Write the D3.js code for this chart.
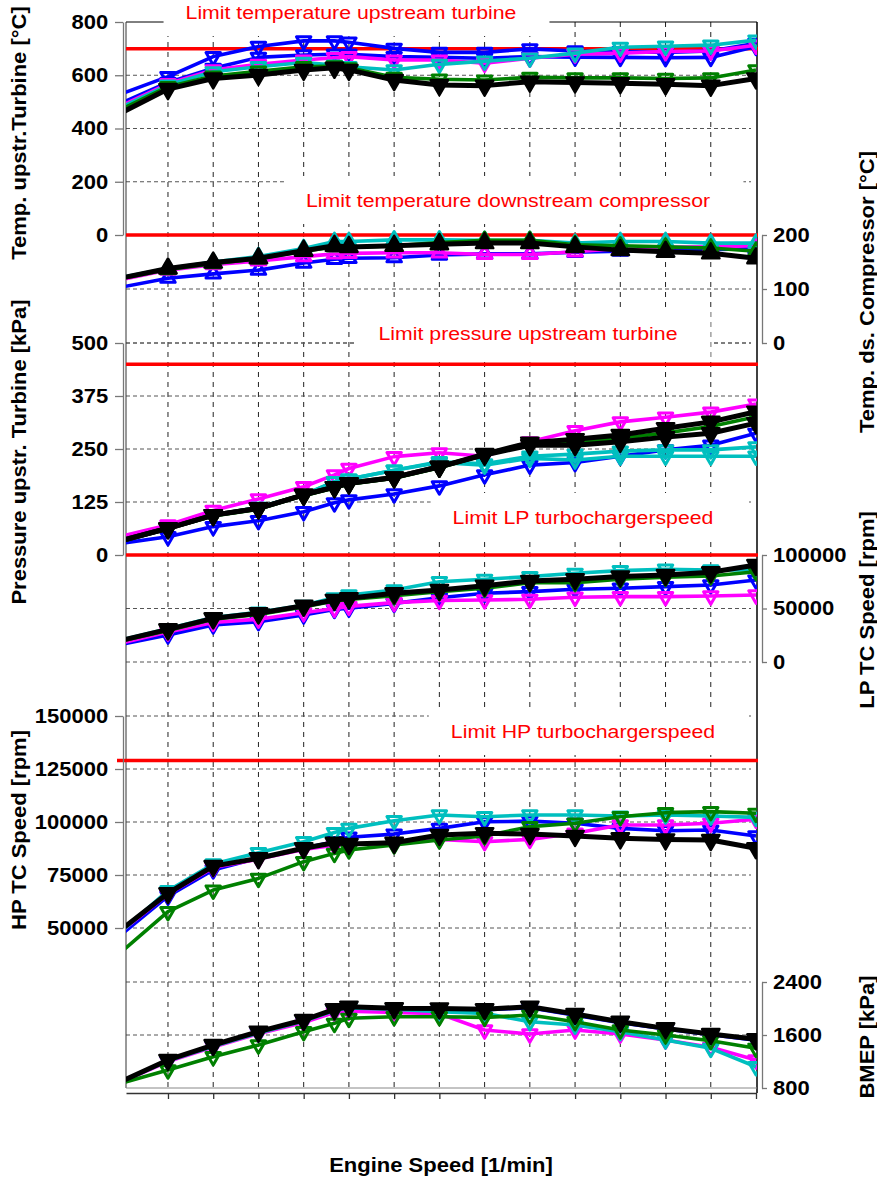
<!DOCTYPE html>
<meta charset="utf-8">
<style>
body { margin: 0; background: #fff; font-family: "Liberation Sans", Arial, Helvetica, sans-serif; }
.tick text { font-weight: bold; font-size: 20px; fill: #000; }
.ytitle { font-weight: bold; font-size: 20px; }
.limit-label { fill: #ff0000; font-size: 18.5px; }
.hgrid { stroke: #555; stroke-dasharray: 4,3; }
.vgrid { stroke: #222; stroke-dasharray: 5,5; }
</style>
<svg id="chart" width="877" height="1179"></svg>
<script src="https://cdn.jsdelivr.net/npm/d3@7"></script>
<script>

// engine speed of every operating point [1/min]
var speed = [1000, 1250, 1500, 1750, 2000, 2170, 2250, 2500, 2750, 3000, 3250, 3500, 3750, 4000, 4250, 4500];
var gridSpeeds = [1250, 1500, 1750, 2000, 2250, 2500, 2750, 3000, 3250, 3500, 3750, 4000, 4250];

// Temp. upstr. Turbine [°C]
var tTurbBlueA   = [532, 595, 670, 708, 729, 729, 724, 701, 686, 686, 699, 691, 689, 686, 691, 720];
var tTurbBlueB   = [498, 573, 626, 667, 676, 679, 679, 670, 667, 664, 670, 668, 667, 666, 667, 708];
var tTurbMagenta = [488, 568, 620, 641, 657, 666, 670, 657, 657, 645, 664, 679, 683, 689, 691, 713];
var tTurbCyan    = [482, 563, 613, 632, 648, 638, 632, 620, 641, 653, 664, 683, 705, 709, 713, 732];
var tTurbGreen   = [475, 557, 597, 615, 632, 635, 628, 592, 585, 582, 592, 590, 590, 588, 590, 620];
var tTurbBlack   = [462, 548, 588, 601, 620, 628, 620, 582, 563, 561, 576, 573, 570, 566, 561, 588];

// Temp. ds. Compressor [°C]
var tCompBlue    = [104, 120, 128, 135, 148, 155, 157, 158, 163, 165, 165, 168, 170, 172, 173, 175];
var tCompMagenta = [118, 135, 145, 152, 160, 165, 166, 167, 167, 164, 164, 169, 175, 177, 178, 180];
var tCompCyan    = [122, 138, 150, 160, 175, 188, 188, 191, 191, 190, 190, 185, 188, 188, 185, 185];
var tCompGreen   = [120, 136, 147, 156, 170, 178, 177, 180, 186, 190, 190, 182, 180, 178, 176, 170];
var tCompBlack   = [121, 138, 149, 157, 171, 180, 178, 180, 183, 185, 185, 178, 172, 169, 166, 157];

// Pressure upstr. Turbine [kPa]
var pTurbBlue    = [28, 43, 67, 81, 102, 123, 130, 144, 163, 189, 212, 218, 233, 248, 259, 287];
var pTurbMagenta = [45, 71, 105, 132, 161, 189, 204, 232, 241, 233, 267, 293, 314, 325, 337, 356];
var pTurbCyan    = [35, 63, 94, 112, 142, 173, 179, 200, 220, 215, 233, 238, 245, 248, 248, 255];
var pTurbCyanB   = [35, 63, 94, 112, 142, 173, 179, 200, 218, 212, 228, 224, 233, 233, 233, 233];
var pTurbGreen   = [33, 62, 92, 108, 140, 158, 167, 181, 206, 236, 262, 267, 275, 288, 303, 326];
var pTurbBlackB  = [35, 63, 94, 110, 142, 160, 169, 183, 208, 236, 259, 259, 267, 278, 287, 311];
var pTurbBlack   = [35, 63, 94, 110, 142, 160, 169, 183, 208, 238, 265, 273, 283, 299, 314, 338];

// LP TC Speed [rpm]
var nLpBlue    = [16800, 25200, 34600, 37700, 43900, 49200, 50200, 54800, 60000, 64200, 65800, 68000, 68900, 70400, 72000, 76600];
var nLpMagenta = [18000, 28000, 37000, 40000, 46000, 50000, 52000, 55500, 57500, 58000, 58600, 60500, 61100, 61100, 61700, 62600];
var nLpCyan    = [21000, 31000, 41500, 46500, 53000, 60000, 62600, 67300, 75000, 77300, 79800, 82900, 85400, 86700, 86000, 86000];
var nLpGreen   = [20000, 29500, 40000, 44500, 51500, 57000, 58500, 62000, 65800, 68900, 74200, 74200, 77300, 79200, 80400, 84400];
var nLpBlack   = [20600, 30500, 40800, 45500, 52600, 58000, 59500, 64200, 67300, 71300, 75700, 77300, 79800, 81300, 83800, 90600];

// HP TC Speed [rpm]
var nHpBlue    = [47500, 65000, 77400, 83000, 87600, 90700, 92800, 94300, 97000, 100100, 100400, 99400, 97000, 95900, 96200, 93400];
var nHpMagenta = [49000, 66000, 78500, 82500, 87000, 89000, 89500, 90000, 91800, 90700, 91800, 94700, 98600, 98600, 99400, 101300];
var nHpCyan    = [49000, 67600, 80200, 85500, 90700, 95000, 97000, 100600, 103300, 102500, 103300, 103300, 102800, 103300, 102800, 102200];
var nHpGreen   = [39300, 57700, 67900, 73400, 81300, 85200, 86800, 89200, 91500, 93400, 97800, 99400, 102500, 104400, 104900, 104100];
var nHpBlack   = [49800, 66400, 79200, 82900, 87600, 90200, 89600, 90200, 93900, 94700, 94300, 93400, 92300, 91800, 91500, 87600];

// BMEP [kPa]
var bmepBlue    = [905, 1215, 1440, 1640, 1815, 1975, 2015, 1995, 1990, 1980, 2010, 1900, 1785, 1690, 1605, 1520];
var bmepMagenta = [900, 1200, 1420, 1620, 1790, 1940, 1960, 1940, 1920, 1675, 1615, 1675, 1615, 1524, 1414, 1223];
var bmepCyan    = [905, 1210, 1430, 1630, 1810, 1970, 2010, 1990, 1950, 1927, 1800, 1750, 1650, 1524, 1399, 1121];
var bmepGreen   = [880, 1072, 1273, 1449, 1650, 1776, 1852, 1876, 1876, 1866, 1901, 1800, 1675, 1600, 1514, 1399];
var bmepBlack   = [910, 1223, 1449, 1650, 1826, 1988, 2027, 2003, 2000, 1988, 2027, 1917, 1800, 1700, 1615, 1535];

// tick labels of the stacked axes
var ticksTempTurb = [0, 200, 400, 600, 800];
var ticksTempComp = [0, 100, 200];
var ticksPressure = [0, 125, 250, 375, 500];
var ticksLp       = [0, 50000, 100000];
var ticksHp       = [50000, 75000, 100000, 125000, 150000];
var ticksBmep     = [800, 1600, 2400];

var BLUE = "#0000ff", MAGENTA = "#ff00ff", CYAN = "#00bfbf", GREEN = "#008000", BLACK = "#000000";

var plotLeft = 126, plotRight = 757, plotTop = 22, plotBottom = 1088, xAxisY = 1093;
var sx = 1.1;   // glyphs are a bit wider in the original

var panels = [
  { title: "Temp. upstr.Turbine [°C]", side: "left", domain: [0, 800], range: [235, 22], ticks: ticksTempTurb,
    limit: 700, label: "Limit temperature upstream turbine", labelX: 351, labelY: 12, titleY: 133, up: false,
    series: [[tTurbBlueA, BLUE], [tTurbBlueB, BLUE], [tTurbMagenta, MAGENTA], [tTurbCyan, CYAN], [tTurbGreen, GREEN], [tTurbBlack, BLACK]] },
  { title: "Temp. ds. Compressor [°C]", side: "right", domain: [0, 200], range: [343, 235], ticks: ticksTempComp,
    limit: 200, label: "Limit temperature downstream compressor", labelX: 508, labelY: 200, titleY: 292, up: true,
    series: [[tCompBlue, BLUE], [tCompMagenta, MAGENTA], [tCompCyan, CYAN], [tCompGreen, GREEN], [tCompBlack, BLACK]] },
  { title: "Pressure upstr. Turbine [kPa]", side: "left", domain: [0, 500], range: [555, 343], ticks: ticksPressure,
    limit: 450, label: "Limit pressure upstream turbine", labelX: 528, labelY: 333, titleY: 452, up: false,
    series: [[pTurbBlue, BLUE], [pTurbMagenta, MAGENTA], [pTurbCyanB, CYAN], [pTurbCyan, CYAN], [pTurbGreen, GREEN], [pTurbBlackB, BLACK], [pTurbBlack, BLACK]] },
  { title: "LP TC Speed [rpm]", side: "right", domain: [0, 100000], range: [662, 555], ticks: ticksLp,
    limit: 100000, label: "Limit LP turbochargerspeed", labelX: 583, labelY: 517, titleY: 610, up: false,
    series: [[nLpBlue, BLUE], [nLpMagenta, MAGENTA], [nLpCyan, CYAN], [nLpGreen, GREEN], [nLpBlack, BLACK]] },
  { title: "HP TC Speed [rpm]", side: "left", domain: [50000, 150000], range: [928, 716], ticks: ticksHp,
    limit: 129000, label: "Limit HP turbochargerspeed", labelX: 583, labelY: 731, titleY: 830, up: false,
    series: [[nHpBlue, BLUE], [nHpMagenta, MAGENTA], [nHpCyan, CYAN], [nHpGreen, GREEN], [nHpBlack, BLACK]] },
  { title: "BMEP [kPa]", side: "right", domain: [800, 2400], range: [1088, 982], ticks: ticksBmep,
    limit: null, titleY: 1037, up: false,
    series: [[bmepBlue, BLUE], [bmepMagenta, MAGENTA], [bmepCyan, CYAN], [bmepGreen, GREEN], [bmepBlack, BLACK]] }
];

var svg = d3.select("#chart");

var x = d3.scaleLinear().domain([1018, 4500]).range([plotLeft, 756]);

svg.append("defs").append("clipPath").attr("id", "plotclip")
  .append("rect").attr("x", plotLeft).attr("y", plotTop - 10)
  .attr("width", plotRight - plotLeft).attr("height", xAxisY - plotTop + 10);

var gridLayer = svg.append("g");
var frameLayer = svg.append("g");
var boxLayer = svg.append("g");
var limitLayer = svg.append("g");
var dataLayer = svg.append("g").attr("clip-path", "url(#plotclip)");
var textLayer = svg.append("g");

// vertical grid
gridLayer.selectAll(".vgrid").data(gridSpeeds).enter().append("line")
  .attr("class", "vgrid")
  .attr("x1", function(d) { return x(d); }).attr("x2", function(d) { return x(d); })
  .attr("y1", plotTop).attr("y2", plotBottom);

panels.forEach(function(p) {
  p.y = d3.scaleLinear().domain(p.domain).range(p.range);

  // horizontal grid
  gridLayer.selectAll(null).data(p.ticks.filter(function(t) {
      var yy = p.y(t); return yy > plotTop + 1 && yy < plotBottom - 1; }))
    .enter().append("line")
    .attr("class", "hgrid")
    .attr("x1", plotLeft).attr("x2", plotRight - 6)
    .attr("y1", function(d) { return p.y(d); }).attr("y2", function(d) { return p.y(d); });

  // axis
  var ax, g;
  if (p.side == "left") {
    ax = d3.axisLeft(p.y).tickValues(p.ticks).tickSize(8).tickSizeOuter(0).tickPadding(5.5).tickFormat(d3.format("d"));
    g = textLayer.append("g").attr("transform", "translate(123,0)").call(ax);
  } else {
    ax = d3.axisRight(p.y).tickValues(p.ticks).tickSize(5).tickSizeOuter(0).tickPadding(5).tickFormat(d3.format("d"));
    g = textLayer.append("g").attr("transform", "translate(762,0)").call(ax);
  }
  g.select(".domain").attr("stroke", "#777").attr("stroke-width", 1.3);
  g.selectAll(".tick line").attr("stroke", "#777").attr("stroke-width", 1.3);
  g.selectAll(".tick text").attr("transform", "scale(" + sx + ",1)");

  // axis title
  var tx = p.side == "left" ? 26 : 874;
  textLayer.append("text").attr("class", "ytitle")
    .attr("text-anchor", "middle")
    .attr("transform", "translate(" + tx + "," + p.titleY + ") rotate(-90) scale(" + sx + ",1)")
    .text(p.title);

  // limit line with label
  if (p.limit !== null) {
    limitLayer.append("line")
      .attr("x1", p.limit == 129000 ? 117 : plotLeft).attr("x2", plotRight + 1)
      .attr("y1", p.y(p.limit)).attr("y2", p.y(p.limit))
      .attr("stroke", "#ff0000").attr("stroke-width", 3.5);
    var lab = textLayer.append("text").attr("class", "limit-label")
      .attr("text-anchor", "middle")
      .attr("transform", "translate(" + p.labelX + "," + (p.labelY + 6.5) + ") scale(1.15,1)")
      .text(p.label);
    var b = lab.node().getBoundingClientRect();
    boxLayer.append("rect")
      .attr("x", b.left - 22).attr("width", b.width + 55)
      .attr("y", p.labelY - 24).attr("height", 48)
      .attr("fill", "#fff");
  }

  // data series
  var line = d3.line().x(function(d, i) { return x(speed[i]); }).y(function(d) { return p.y(d); });
  p.series.forEach(function(s) {
    var vals = s[0], col = s[1], isBlack = col == BLACK;
    dataLayer.append("path").datum(vals)
      .attr("fill", "none").attr("stroke", col)
      .attr("stroke-width", isBlack ? 5 : 3.6)
      .attr("stroke-linejoin", "round")
      .attr("d", line);
    var sym = d3.symbol().type(d3.symbolTriangle).size(isBlack ? 130 : 90);
    dataLayer.selectAll(null).data(vals.slice(1)).enter().append("path")
      .attr("d", sym)
      .attr("transform", function(d, i) {
        return "translate(" + x(speed[i + 1]) + "," + p.y(d) + ")" + (p.up ? "" : " rotate(180)");
      })
      .attr("fill", isBlack ? BLACK : "none")
      .attr("stroke", col)
      .attr("stroke-linejoin", "round")
      .attr("stroke-width", isBlack ? 2.5 : 3);
  });
});

// frame
frameLayer.append("line").attr("x1", plotLeft).attr("x2", plotRight).attr("y1", plotTop).attr("y2", plotTop).attr("stroke", "#000");
frameLayer.append("line").attr("x1", plotLeft).attr("x2", plotLeft).attr("y1", plotTop).attr("y2", plotBottom).attr("stroke", "#333");
frameLayer.append("line").attr("x1", plotRight).attr("x2", plotRight).attr("y1", plotTop).attr("y2", xAxisY).attr("stroke", "#000").attr("stroke-width", 1.5);
frameLayer.append("line").attr("x1", plotLeft).attr("x2", plotRight).attr("y1", plotBottom).attr("y2", plotBottom).attr("stroke", "#888");

// engine speed axis
var xg = textLayer.append("g").attr("transform", "translate(0," + xAxisY + ")")
  .call(d3.axisBottom(x).tickValues(gridSpeeds.concat([4500])).tickSize(6).tickSizeOuter(0).tickFormat(""));
xg.select(".domain").attr("stroke", "#333").attr("stroke-width", 1.3);
xg.selectAll(".tick line").attr("stroke", "#333").attr("stroke-width", 1.3);

textLayer.append("text").attr("class", "ytitle")
  .attr("text-anchor", "middle")
  .attr("transform", "translate(441,1172) scale(" + sx + ",1)")
  .text("Engine Speed [1/min]");

</script>
